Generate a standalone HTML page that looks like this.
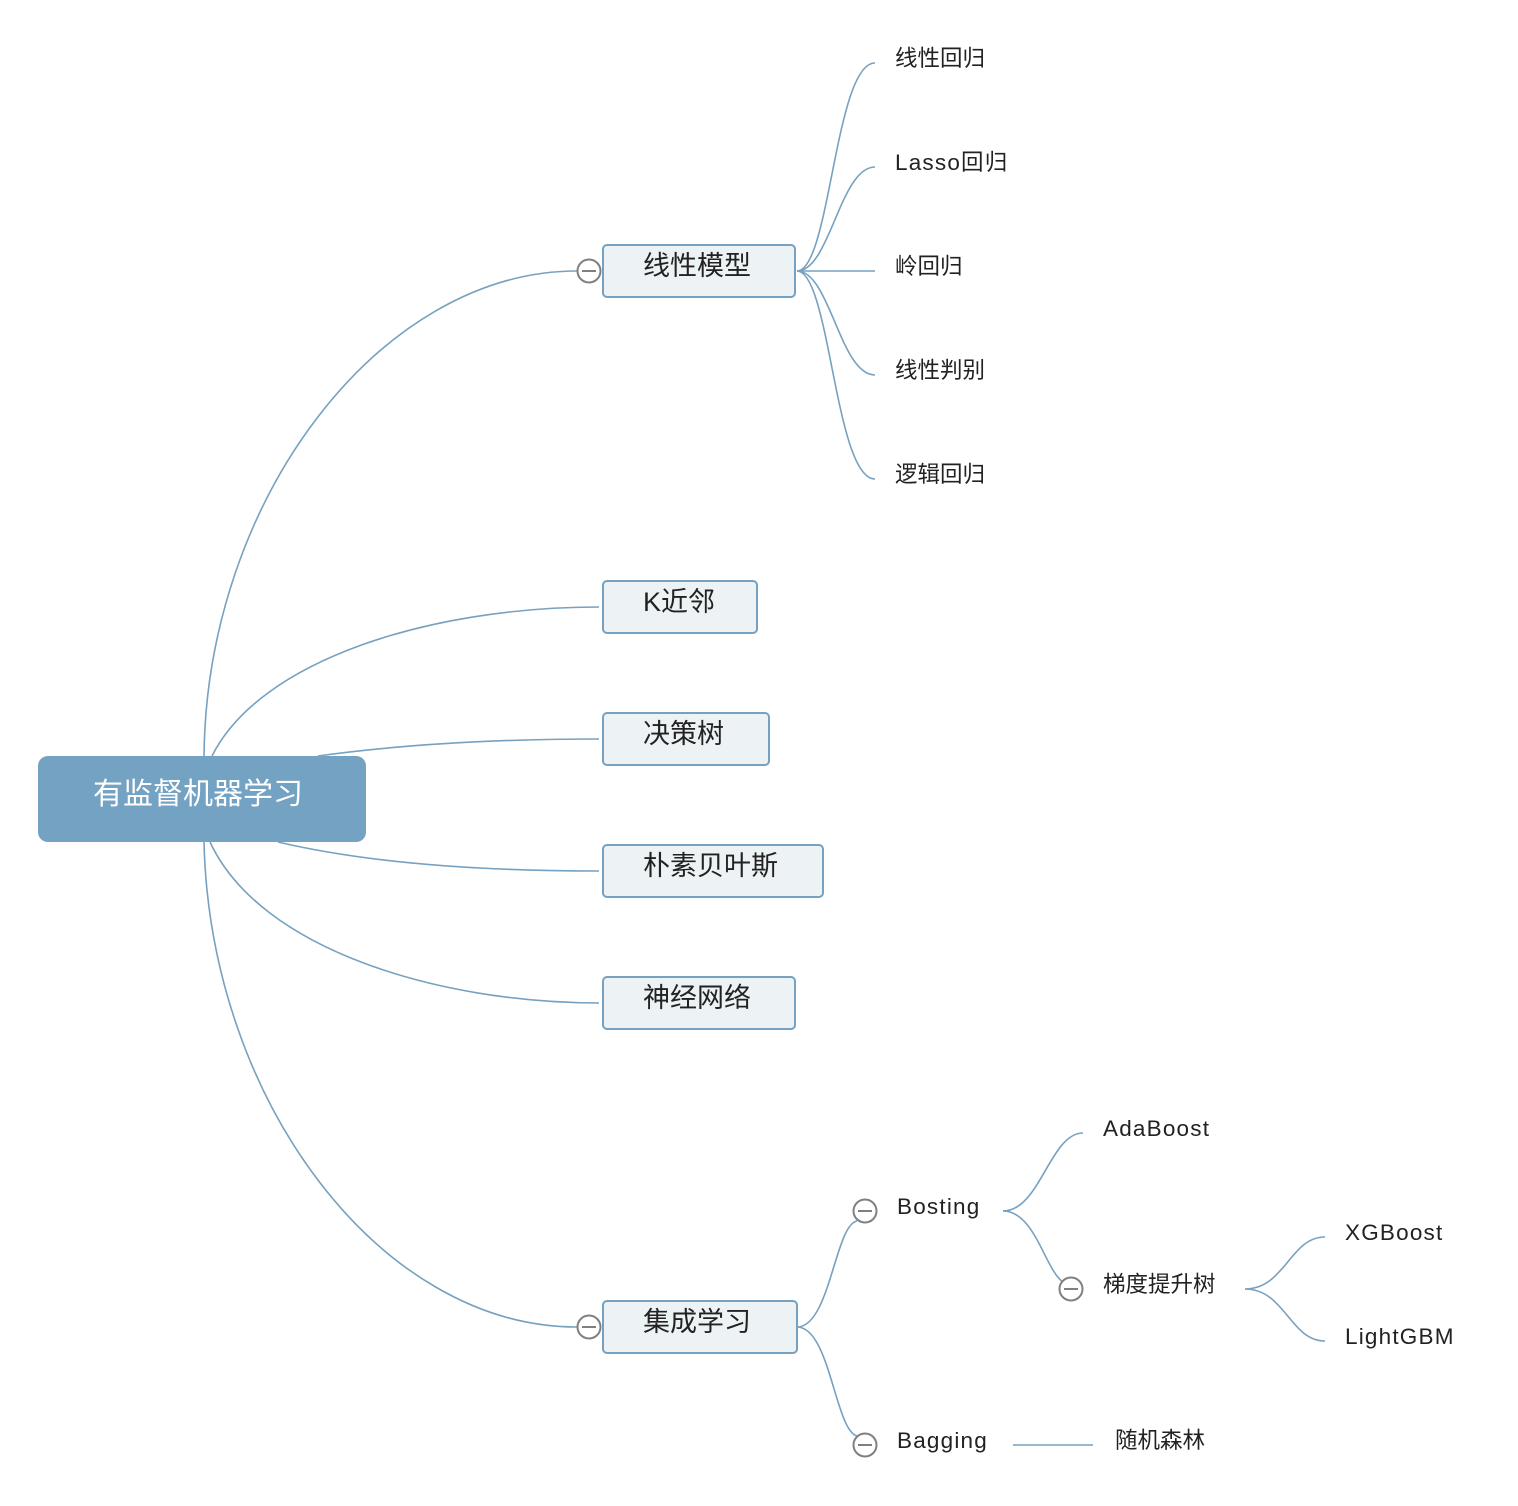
<!DOCTYPE html>
<html><head><meta charset="utf-8"><style>
html,body{margin:0;padding:0;background:#fff;}
svg{display:block;}
text{font-family:"Liberation Sans","Noto Sans CJK SC",sans-serif;fill:#222;}
.lat{letter-spacing:1.2px;}
</style></head><body>
<svg width="1518" height="1506" viewBox="0 0 1518 1506" xmlns="http://www.w3.org/2000/svg">
<g fill="none" stroke="#76a1c0" stroke-width="1.6">
<path d="M204,757 C206,500 380,271 577,271"/>
<path d="M212,756 C260,660 430,607 599,607"/>
<path d="M318,756 C420,742 520,739 599,739"/>
<path d="M278,842 C380,866 500,871 599,871"/>
<path d="M210,842 C260,950 440,1003 599,1003"/>
<path d="M204,842 C210,1100 380,1327 577,1327"/>
<path d="M797,271 C830,271 835,63 875,63"/>
<path d="M797,271 C830,271 840,167 875,167"/>
<path d="M797,271 L875,271"/>
<path d="M797,271 C830,271 840,375 875,375"/>
<path d="M797,271 C830,271 835,479 875,479"/>
<path d="M797,1327 C830,1327 835,1225 857,1221"/>
<path d="M797,1327 C830,1327 835,1430 857,1436"/>
<path d="M1003,1211 C1040,1211 1050,1133 1083,1133"/>
<path d="M1003,1211 C1035,1211 1045,1270 1063,1282"/>
<path d="M1245,1289 C1285,1289 1290,1237 1325,1237"/>
<path d="M1245,1289 C1285,1289 1290,1341 1325,1341"/>
<path d="M1013,1445 L1093,1445"/>
</g>
<rect x="38" y="756" width="328" height="86" rx="10" fill="#74a2c2"/>
<text x="198" y="804" font-size="30" text-anchor="middle" style="fill:#fff">有监督机器学习</text>
<g fill="#edf2f5" stroke="#76a1c0" stroke-width="2">
<rect x="603" y="245" width="192" height="52" rx="4"/>
<rect x="603" y="581" width="154" height="52" rx="4"/>
<rect x="603" y="713" width="166" height="52" rx="4"/>
<rect x="603" y="845" width="220" height="52" rx="4"/>
<rect x="603" y="977" width="192" height="52" rx="4"/>
<rect x="603" y="1301" width="194" height="52" rx="4"/>
</g>
<g font-size="27">
<text x="643" y="275">线性模型</text>
<text x="643" y="611">K近邻</text>
<text x="643" y="743">决策树</text>
<text x="643" y="875">朴素贝叶斯</text>
<text x="643" y="1007">神经网络</text>
<text x="643" y="1331">集成学习</text>
</g>
<g font-size="22.5">
<text x="895" y="66">线性回归</text>
<text x="895" y="170" class="lat">Lasso回归</text>
<text x="895" y="274">岭回归</text>
<text x="895" y="378">线性判别</text>
<text x="895" y="482">逻辑回归</text>
<text x="897" y="1214" class="lat">Bosting</text>
<text x="897" y="1448" class="lat">Bagging</text>
<text x="1103" y="1136" class="lat">AdaBoost</text>
<text x="1103" y="1292">梯度提升树</text>
<text x="1345" y="1240" class="lat">XGBoost</text>
<text x="1345" y="1344" class="lat">LightGBM</text>
<text x="1115" y="1448">随机森林</text>
</g>
<g fill="#fff" stroke="#808080" stroke-width="2">
<circle cx="589" cy="271" r="11.5"/>
<circle cx="589" cy="1327" r="11.5"/>
<circle cx="865" cy="1211" r="11.5"/>
<circle cx="865" cy="1445" r="11.5"/>
<circle cx="1071" cy="1289" r="11.5"/>
</g>
<g stroke="#808080" stroke-width="2">
<line x1="582" y1="271" x2="596" y2="271"/>
<line x1="582" y1="1327" x2="596" y2="1327"/>
<line x1="858" y1="1211" x2="872" y2="1211"/>
<line x1="858" y1="1445" x2="872" y2="1445"/>
<line x1="1064" y1="1289" x2="1078" y2="1289"/>
</g>
</svg>
</body></html>
